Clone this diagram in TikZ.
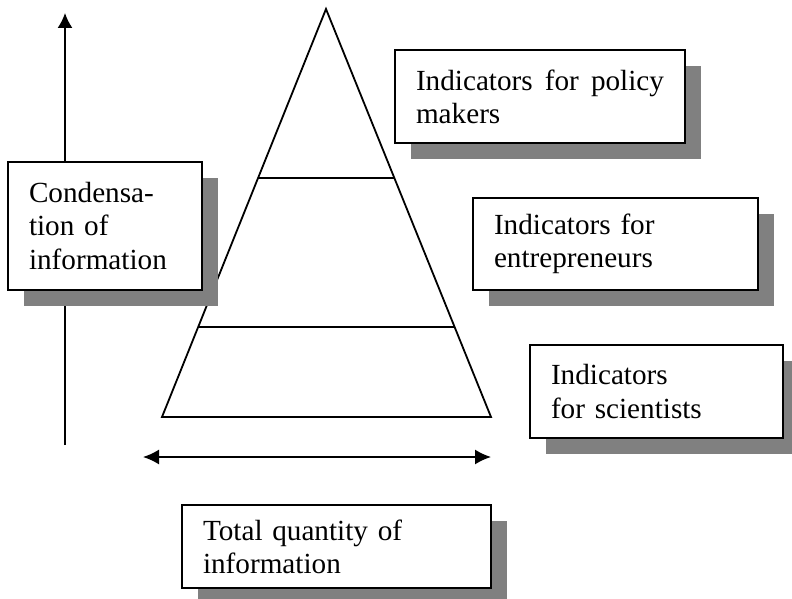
\documentclass[tikz,border=0pt]{standalone}
\usepackage{fontspec}
\setmainfont{Liberation Serif}
\usepackage{xcolor}
\usepackage{tikz}
\usetikzlibrary{calc, shadows, arrows.meta, positioning}
\definecolor{shadowgray}{RGB}{128,128,128}

\begin{document}
\begin{tikzpicture}[x=0.5pt, y=-0.5pt,
    infobox/.style={draw, line width=1pt, fill=white, anchor=north west,
        inner xsep=10.5pt, inner ysep=0pt, align=left,
        font=\fontsize{14.6pt}{16.6pt}\selectfont,
        drop shadow={shadow xshift=8pt, shadow yshift=-8pt, fill=shadowgray, opacity=1}},
    arr/.style={line width=0.8pt, -{Latex[length=7.5pt, width=7.5pt]}}]
    \clip (0,0) rectangle (792,599);

    % 1. Mũi tên dọc và mũi tên ngang
    \coordinate (upbot) at (65,445);
    \coordinate (uptop) at (65,13);
    \draw[arr] (upbot) -- (uptop);
    \coordinate (qleft) at (143,457);
    \coordinate (qright) at (491,457);
    \draw[arr, {Latex[length=8pt, width=7.5pt]}-{Latex[length=8pt, width=7.5pt]}] (qleft) -- (qright);

    % 2. Tam giác và hai đường ngang
    \coordinate (apex) at (326,9);
    \coordinate (bl) at (162,417);
    \coordinate (br) at (491,417);
    \draw[line width=0.9pt, line join=miter] (apex) -- (bl) -- (br) -- cycle;
    \draw[line width=0.9pt] ($(apex)!0.4142!(bl)$) -- ($(apex)!0.4142!(br)$);
    \draw[line width=0.9pt] ($(apex)!0.7794!(bl)$) -- ($(apex)!0.7794!(br)$);

    % 3. Các hộp chữ có bóng
    \node[infobox, text width=76pt, minimum height=64pt] (cond) at (7,161)
        {Condensa-\\tion of\\information};
    \node[infobox, text width=124pt, minimum height=46.5pt] (policy) at (394,49)
        {Indicators\hfill for\hfill policy\\makers};
    \node[infobox, text width=121.5pt, minimum height=46pt] (entre) at (472,197)
        {Indicators for\\entrepreneurs};
    \node[infobox, text width=105.5pt, minimum height=46.5pt] (sci) at (529,344)
        {Indicators\\for scientists};
    \node[infobox, text width=133.5pt, minimum height=41.5pt] (total) at (181,504)
        {Total quantity of\\information};
\end{tikzpicture}
\end{document}
